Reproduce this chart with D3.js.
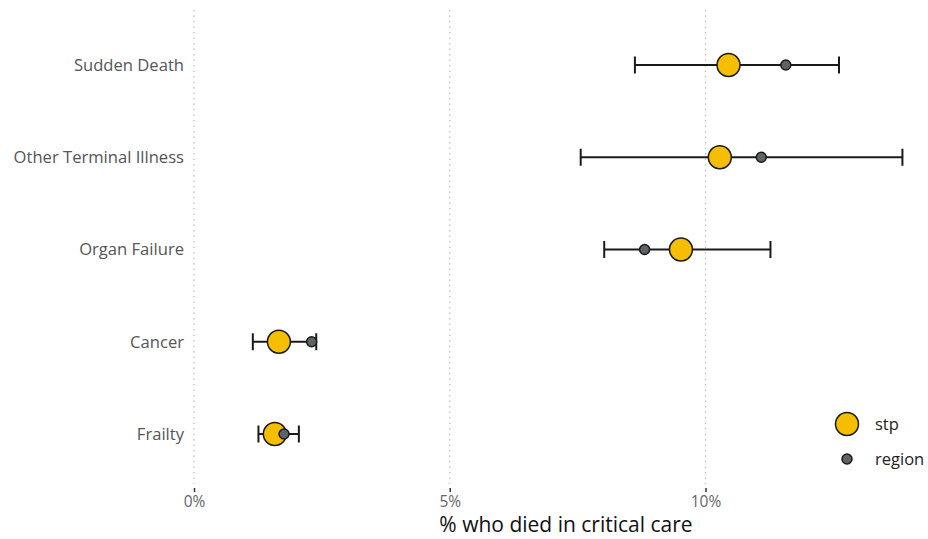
<!DOCTYPE html>
<html>
<head>
<meta charset="utf-8">
<script src="https://cdn.jsdelivr.net/npm/d3@7"></script>
<style>
  body { margin: 0; background: #fff; }
  svg { display: block; font-family: "Open Sans", "Noto Sans", sans-serif; }
</style>
</head>
<body>
<svg id="chart" width="928" height="539"></svg>
<script>
const categories = ["Sudden Death", "Other Terminal Illness", "Organ Failure", "Cancer", "Frailty"];
const stpValues = [10.45, 10.28, 9.52, 1.66, 1.58];
const regionValues = [11.57, 11.09, 8.81, 2.30, 1.76];
const lowerCI = [8.62, 7.56, 8.02, 1.15, 1.26];
const upperCI = [12.61, 13.85, 11.27, 2.39, 2.05];
const xTicks = [0, 5, 10];
const xTickLabels = ["0%", "5%", "10%"];
const legendLabels = ["stp", "region"];

const data = categories.map((c, i) => ({
  cat: c, stp: stpValues[i], region: regionValues[i], lo: lowerCI[i], hi: upperCI[i]
}));

const svg = d3.select("#chart");
const x = d3.scaleLinear().domain([0, 10]).range([194, 705.5]);
const y = d3.scalePoint().domain(categories).range([65, 434]);

const stpFill = "#F6BE00", regionFill = "#5E6368", strokeCol = "#1a1a1a";

// gridlines
svg.append("g").selectAll("line").data(xTicks).join("line")
  .attr("x1", d => x(d)).attr("x2", d => x(d))
  .attr("y1", 10).attr("y2", 484)
  .attr("stroke", "#bdbdbd").attr("stroke-width", 1.2)
  .attr("stroke-dasharray", "1.5,4");

// x axis
const xAxis = d3.axisBottom(x).tickValues(xTicks)
  .tickFormat((d, i) => xTickLabels[i]).tickSize(4).tickPadding(4);
const gx = svg.append("g").attr("transform", "translate(0,488)").call(xAxis);
gx.select(".domain").remove();
gx.selectAll(".tick line").attr("stroke", "#333").attr("stroke-width", 1.5);
gx.selectAll(".tick text").attr("fill", "#666").attr("font-size", 15.5)
  .attr("font-family", "\"Open Sans\", sans-serif");

// y axis
const yAxis = d3.axisLeft(y).tickSize(0).tickPadding(10);
const gy = svg.append("g").attr("transform", "translate(194,0)").call(yAxis);
gy.select(".domain").remove();
gy.selectAll(".tick text").attr("fill", "#555").attr("font-size", 16.6)
  .attr("font-family", "\"Open Sans\", sans-serif");

// axis title
svg.append("text").attr("x", 566).attr("y", 532)
  .attr("text-anchor", "middle").attr("font-size", 21).attr("fill", "#111")
  .text("% who died in critical care");

// error bars
const eb = svg.append("g");
eb.selectAll("line.h").data(data).join("line").attr("class", "h")
  .attr("x1", d => x(d.lo)).attr("x2", d => x(d.hi))
  .attr("y1", d => y(d.cat)).attr("y2", d => y(d.cat))
  .attr("stroke", strokeCol).attr("stroke-width", 2);
["lo", "hi"].forEach(k => {
  eb.selectAll("line.c" + k).data(data).join("line").attr("class", "c" + k)
    .attr("x1", d => x(d[k])).attr("x2", d => x(d[k]))
    .attr("y1", d => y(d.cat) - 8.5).attr("y2", d => y(d.cat) + 8.5)
    .attr("stroke", strokeCol).attr("stroke-width", 2);
});

// stp points
svg.append("g").selectAll("circle").data(data).join("circle")
  .attr("cx", d => x(d.stp)).attr("cy", d => y(d.cat)).attr("r", 11.5)
  .attr("fill", stpFill).attr("stroke", strokeCol).attr("stroke-width", 1.5);

// region points
svg.append("g").selectAll("circle").data(data).join("circle")
  .attr("cx", d => x(d.region)).attr("cy", d => y(d.cat)).attr("r", 5)
  .attr("fill", regionFill).attr("stroke", strokeCol).attr("stroke-width", 1.5);

// legend
const lg = svg.append("g");
lg.append("circle").attr("cx", 847).attr("cy", 424).attr("r", 11.5)
  .attr("fill", stpFill).attr("stroke", strokeCol).attr("stroke-width", 1.5);
lg.append("circle").attr("cx", 847).attr("cy", 459).attr("r", 5)
  .attr("fill", regionFill).attr("stroke", strokeCol).attr("stroke-width", 1.5);
lg.selectAll("text").data(legendLabels).join("text")
  .attr("x", 875).attr("y", (d, i) => i === 0 ? 424 : 459)
  .attr("dy", "0.35em").attr("font-size", 16.5).attr("fill", "#222")
  .text(d => d);
</script>
</body>
</html>
